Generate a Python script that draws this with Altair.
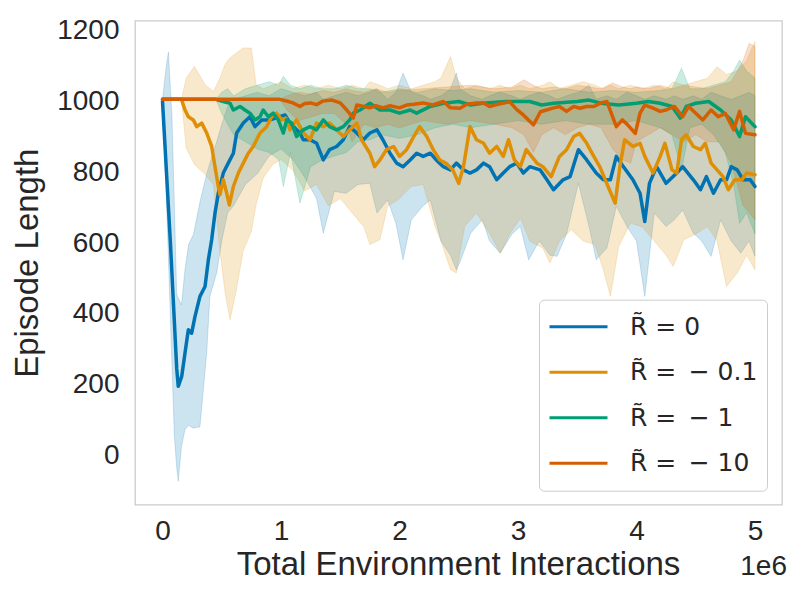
import altair as alt
import pandas as pd

# ---------------- data (x in millions of environment interactions) ----------------
LABELS = ["R\u0303 = 0\u2009", "R\u0303 =\u2002\u2212 0.1\u2009", "R\u0303 =\u2002\u2212 1\u2009", "R\u0303 =\u2002\u2212 10\u2009"]
COLORS = ["#0173b2", "#de8f05", "#029e73", "#d55e00"]

# R = 0 (mean)
R0_X = [0, 0.066, 0.12, 0.133, 0.162, 0.19, 0.218, 0.246, 0.274, 0.316, 0.359, 0.387, 0.415, 0.443, 0.471,
        0.513, 0.555, 0.598, 0.626, 0.682, 0.738, 0.781, 0.837, 0.907, 0.99, 1.034, 1.076, 1.132, 1.16, 1.188,
        1.245, 1.301, 1.357, 1.41, 1.47, 1.526, 1.58, 1.64, 1.695, 1.75, 1.81, 1.86, 1.92, 1.976, 2.03, 2.09,
        2.145, 2.20, 2.26, 2.31, 2.37, 2.43, 2.48, 2.54, 2.595, 2.65, 2.71, 2.76, 2.82, 2.876, 2.93, 2.99,
        3.045, 3.10, 3.186, 3.24, 3.30, 3.38, 3.44, 3.51, 3.58, 3.66, 3.72, 3.78, 3.83, 3.89, 3.97, 4.03, 4.07,
        4.11, 4.17, 4.25, 4.34, 4.39, 4.48, 4.54, 4.59, 4.65, 4.71, 4.76, 4.80, 4.85, 4.90, 4.96, 5.0]
R0_Y = [995, 600, 240, 190, 218, 284, 350, 340, 387, 444, 472, 547, 604, 679, 735, 792, 820, 848, 905, 933,
        951, 923, 942, 942, 951, 956, 933, 914, 905, 886, 886, 876, 829, 858, 867, 886, 923, 905, 886, 905,
        914, 886, 848, 820, 810, 829, 848, 839, 848, 829, 810, 801, 820, 801, 792, 801, 820, 810, 773, 792,
        810, 820, 792, 810, 801, 775, 745, 773, 782, 858, 829, 792, 773, 773, 839, 810, 773, 735, 655, 763,
        810, 763, 792, 810, 773, 745, 782, 735, 773, 773, 810, 801, 773, 773, 754]
# R = -0.1 (mean)
R01_X = [0, 0.16, 0.19, 0.218, 0.26, 0.289, 0.331, 0.373, 0.415, 0.443, 0.471, 0.485, 0.513, 0.542, 0.564,
         0.598, 0.64, 0.682, 0.724, 0.766, 0.823, 0.879, 0.921, 0.964, 1.006, 1.04, 1.076, 1.13, 1.19, 1.245,
         1.30, 1.357, 1.41, 1.47, 1.526, 1.58, 1.64, 1.68, 1.75, 1.79, 1.835, 1.89, 1.95, 2.0, 2.06, 2.12, 2.17,
         2.23, 2.285, 2.34, 2.39, 2.45, 2.50, 2.54, 2.595, 2.65, 2.71, 2.76, 2.82, 2.876, 2.92, 2.97, 3.02,
         3.07, 3.16, 3.21, 3.28, 3.35, 3.41, 3.47, 3.52, 3.58, 3.64, 3.69, 3.76, 3.82, 3.86, 3.90, 3.97, 4.03,
         4.07, 4.14, 4.20, 4.24, 4.30, 4.34, 4.38, 4.42, 4.48, 4.54, 4.58, 4.63, 4.68, 4.73, 4.775, 4.83, 4.89,
         4.93, 5.0]
R01_Y = [1000, 1000, 970, 951, 942, 923, 933, 905, 867, 810, 754, 731, 773, 735, 702, 754, 792, 820, 848, 867,
         905, 923, 951, 961, 942, 947, 914, 942, 905, 886, 933, 923, 933, 914, 895, 914, 933, 886, 848, 810,
         829, 858, 867, 839, 858, 895, 923, 895, 858, 829, 820, 801, 763, 810, 923, 886, 876, 848, 867, 839,
         886, 829, 810, 858, 820, 810, 782, 839, 858, 895, 904, 876, 839, 810, 754, 707, 810, 886, 867, 876,
         839, 792, 839, 876, 801, 792, 886, 900, 867, 858, 876, 820, 801, 782, 745, 773, 773, 792, 787]
# R = -1 (mean)
R1_X = [0, 0.45, 0.513, 0.57, 0.598, 0.654, 0.696, 0.738, 0.781, 0.823, 0.85, 0.893, 0.935, 0.977, 1.02,
        1.048, 1.09, 1.132, 1.188, 1.245, 1.30, 1.357, 1.41, 1.47, 1.526, 1.58, 1.61, 1.667, 1.75, 1.835,
        1.92, 2.0, 2.09, 2.145, 2.26, 2.37, 2.5, 2.6, 2.7, 2.9, 3.1, 3.2, 3.3, 3.5, 3.6, 3.7, 3.85, 4.0, 4.1,
        4.2, 4.3, 4.37, 4.42, 4.5, 4.61, 4.71, 4.80, 4.87, 4.92, 5.0]
R1_Y = [1000, 1000, 994, 989, 970, 980, 970, 961, 942, 951, 970, 951, 961, 942, 905, 942, 933, 895, 914, 923,
        914, 942, 923, 914, 923, 942, 961, 970, 989, 970, 970, 961, 970, 961, 980, 989, 994, 984, 989, 994,
        994, 984, 989, 994, 998, 989, 984, 989, 994, 989, 980, 947, 980, 989, 994, 970, 942, 895, 951, 923]
# R = -10 (mean)
R10_X = [0, 0.99, 1.04, 1.10, 1.16, 1.2, 1.25, 1.3, 1.35, 1.43, 1.5, 1.555, 1.61, 1.64, 1.70, 1.75, 1.80,
         1.86, 1.92, 2.0, 2.06, 2.12, 2.2, 2.28, 2.37, 2.43, 2.51, 2.57, 2.65, 2.71, 2.76, 2.83, 2.93, 2.99,
         3.045, 3.13, 3.19, 3.24, 3.30, 3.35, 3.41, 3.47, 3.52, 3.58, 3.64, 3.70, 3.75, 3.83, 3.88, 3.92, 3.99,
         4.03, 4.07, 4.14, 4.20, 4.25, 4.32, 4.39, 4.44, 4.50, 4.56, 4.63, 4.69, 4.75, 4.82, 4.87, 4.92, 5.0]
R10_Y = [1000, 1000, 996, 990, 980, 988, 990, 985, 995, 998, 990, 970, 947, 984, 980, 976, 982, 976, 982, 976,
         984, 986, 990, 984, 994, 976, 975, 986, 990, 990, 980, 986, 993, 971, 956, 928, 965, 970, 976, 980,
         966, 980, 975, 980, 980, 990, 994, 923, 942, 930, 904, 961, 984, 975, 966, 970, 980, 951, 980, 961,
         942, 970, 951, 960, 914, 966, 904, 900]

# confidence bands
B0_X = [0, 0.03, 0.05, 0.08, 0.10, 0.12, 0.133, 0.16, 0.19, 0.22, 0.26, 0.316, 0.373, 0.40, 0.457, 0.5, 0.55,
        0.6, 0.7, 0.8, 0.9, 1.0, 1.1, 1.2, 1.3, 1.357, 1.45, 1.55, 1.65, 1.75, 1.81, 1.9, 1.97, 2.03, 2.1, 2.2,
        2.26, 2.35, 2.43, 2.48, 2.51, 2.6, 2.7, 2.76, 2.85, 2.95, 3.02, 3.09, 3.18, 3.27, 3.33, 3.41, 3.51, 3.6,
        3.66, 3.75, 3.83, 3.92, 4.0, 4.07, 4.15, 4.25, 4.32, 4.39, 4.48, 4.55, 4.63, 4.71, 4.80, 4.88, 4.95, 5.0]
B0_LO = [990, 750, 550, 250, 50, -40, -78, 20, 68, 80, 72, 76, 284, 444, 510, 600, 680, 700, 760, 790, 840,
         860, 830, 780, 720, 622, 740, 735, 760, 763, 679, 716, 650, 547, 660, 700, 716, 600, 560, 519, 540,
         622, 660, 600, 566, 620, 641, 547, 600, 560, 557, 620, 763, 641, 547, 580, 698, 641, 600, 444, 679,
         641, 660, 688, 622, 600, 557, 660, 600, 566, 600, 557]
B0_HI = [1000, 1090, 1134, 950, 700, 450, 440, 420, 520, 590, 618, 710, 790, 820, 880, 930, 980, 1000, 1010,
         1020, 1010, 1030, 1020, 1010, 1020, 1000, 1010, 1020, 1010, 1020, 1030, 1000, 1020, 1074, 1020, 1010,
         1000, 1010, 1030, 1074, 1030, 1010, 1000, 1010, 1020, 1010, 1000, 1010, 1020, 1010, 1000, 1010, 1020,
         1040, 1000, 1010, 1000, 1020, 1010, 1000, 1010, 1000, 1010, 1000, 1010, 1000, 1020, 1010, 1000, 1010,
         1020, 1010]
B01_X = [0, 0.16, 0.2, 0.27, 0.36, 0.43, 0.485, 0.53, 0.57, 0.62, 0.68, 0.75, 0.79, 0.85, 0.93, 1.0, 1.1, 1.2,
         1.3, 1.4, 1.5, 1.6, 1.7, 1.75, 1.835, 1.9, 2.0, 2.1, 2.2, 2.3, 2.35, 2.43, 2.48, 2.55, 2.65, 2.76,
         2.85, 2.93, 3.02, 3.1, 3.21, 3.27, 3.35, 3.45, 3.55, 3.65, 3.72, 3.78, 3.85, 3.95, 4.05, 4.15, 4.25,
         4.31, 4.4, 4.5, 4.6, 4.68, 4.76, 4.85, 4.93, 5.0]
B01_LO = [1000, 1000, 863, 816, 788, 759, 571, 450, 378, 456, 571, 628, 703, 778, 816, 830, 800, 741, 760, 700,
          720, 680, 640, 590, 604, 698, 720, 754, 760, 641, 600, 520, 510, 641, 679, 622, 566, 620, 665, 600,
          580, 538, 600, 632, 600, 590, 520, 444, 585, 651, 640, 600, 560, 528, 604, 620, 641, 600, 472, 510,
          560, 519]
B01_HI = [1000, 1000, 1060, 1093, 1041, 1022, 1060, 1100, 1117, 1130, 1145, 1145, 1041, 1030, 1040, 1050,
          1030, 1040, 1030, 1040, 1030, 1040, 1030, 1050, 1040, 1030, 1040, 1030, 1040, 1050, 1060, 1121, 1060,
          1030, 1040, 1030, 1040, 1030, 1040, 1030, 1040, 1050, 1030, 1040, 1050, 1040, 1030, 1040, 1030, 1040,
          1030, 1040, 1030, 1050, 1040, 1050, 1060, 1092, 1070, 1080, 1110, 1163]
B1_X = [0, 0.45, 0.5, 0.55, 0.6, 0.7, 0.8, 0.9, 0.98, 1.02, 1.08, 1.16, 1.25, 1.35, 1.45, 1.55, 1.65, 1.75,
        1.85, 2.0, 2.15, 2.3, 2.45, 2.6, 2.8, 3.0, 3.2, 3.4, 3.6, 3.8, 4.0, 4.2, 4.3, 4.38, 4.45, 4.55, 4.65,
        4.75, 4.82, 4.87, 4.93, 5.0]
B1_LO = [1000, 1000, 960, 930, 900, 880, 860, 850, 830, 754, 850, 707, 810, 829, 840, 850, 880, 886, 900, 890,
         900, 920, 930, 920, 930, 940, 930, 940, 930, 930, 940, 920, 900, 800, 920, 930, 900, 850, 760, 650,
         680, 620]
B1_HI = [1000, 1000, 1020, 1030, 1010, 1030, 1040, 1050, 1040, 1065, 1040, 1030, 1040, 1030, 1030, 1040, 1030,
         1030, 1020, 1030, 1020, 1030, 1025, 1030, 1020, 1025, 1020, 1030, 1020, 1025, 1020, 1025, 1030, 1088,
         1030, 1030, 1040, 1050, 1080, 1111, 1080, 1060]
B10_X = [0, 0.99, 1.05, 1.15, 1.25, 1.35, 1.45, 1.55, 1.6, 1.7, 1.8, 1.9, 2.0, 2.2, 2.4, 2.6, 2.8, 2.95, 3.05,
         3.13, 3.2, 3.3, 3.4, 3.5, 3.6, 3.7, 3.8, 3.88, 3.95, 4.0, 4.1, 4.2, 4.3, 4.4, 4.5, 4.6, 4.7, 4.8, 4.85,
         4.9, 4.95, 5.0]
B10_LO = [1000, 1000, 970, 940, 950, 960, 960, 930, 880, 930, 920, 930, 920, 940, 930, 940, 930, 920, 900, 850,
          900, 920, 900, 920, 930, 920, 860, 830, 820, 880, 900, 920, 900, 880, 900, 880, 880, 820, 760, 700,
          680, 660]
B10_HI = [1000, 1000, 1010, 1020, 1015, 1025, 1020, 1030, 1025, 1020, 1030, 1020, 1025, 1030, 1035, 1040, 1030,
          1035, 1055, 1040, 1030, 1035, 1030, 1040, 1035, 1030, 1046, 1035, 1030, 1035, 1030, 1040, 1030, 1040,
          1035, 1030, 1040, 1050, 1080, 1110, 1158, 1150]

X_TICKS = [0, 1, 2, 3, 4, 5]
Y_TICKS = [0, 200, 400, 600, 800, 1000, 1200]

# ---------------- tables ----------------
line_sets = [(R0_X, R0_Y), (R01_X, R01_Y), (R1_X, R1_Y), (R10_X, R10_Y)]
band_sets = [(B0_X, B0_LO, B0_HI), (B01_X, B01_LO, B01_HI), (B1_X, B1_LO, B1_HI), (B10_X, B10_LO, B10_HI)]

line_rows = []
for k, (xs, ys) in enumerate(line_sets):
    for x, y in zip(xs, ys):
        line_rows.append({"x": x, "y": y, "series": LABELS[k], "k": k})
lines_df = pd.DataFrame(line_rows)

band_rows = []
for k, (xs, lo, hi) in enumerate(band_sets):
    for x, a, b in zip(xs, lo, hi):
        band_rows.append({"x": x, "lo": a, "hi": b, "series": LABELS[k], "k": k})
band_df = pd.DataFrame(band_rows)

TXT = "#262626"
FONT = "Liberation Sans"

x_scale = alt.Scale(domain=[-0.232, 5.228], nice=False, zero=False)
y_scale = alt.Scale(domain=[-144, 1222], nice=False, zero=False)

x_axis = alt.Axis(values=X_TICKS, format="d", ticks=False, tickSize=0, domain=False, grid=False,
                  labelFont=FONT, labelFontSize=28, labelColor=TXT, labelBaseline="alphabetic",
                  labelPadding=35, labelOverlap=False, labelFlush=False,
                  title="Total Environment Interactions", titleFont=FONT, titleFontSize=33,
                  titleFontWeight="normal", titleColor=TXT, titleBaseline="alphabetic",
                  titleAlign="center", titleX=323, titleY=70)
y_axis = alt.Axis(values=Y_TICKS, format="d", ticks=False, tickSize=0, domain=False, grid=False,
                  labelFont=FONT, labelFontSize=28, labelColor=TXT, labelPadding=16, labelOffset=2,
                  labelOverlap=False, labelFlush=False,
                  title="Episode Length", titleFont=FONT, titleFontSize=33, titleFontWeight="normal",
                  titleColor=TXT, titleBaseline="alphabetic", titleAlign="center", titleAngle=270,
                  titleX=-98, titleY=242)

bands = alt.Chart(band_df).mark_area(fillOpacity=0.2, strokeOpacity=0.18, strokeWidth=1).encode(
    x=alt.X("x:Q", scale=x_scale, axis=x_axis),
    y=alt.Y("lo:Q", scale=y_scale, axis=y_axis, stack=None),
    y2="hi:Q",
    fill=alt.Fill("series:N", scale=alt.Scale(domain=LABELS, range=COLORS), legend=None),
    stroke=alt.Stroke("series:N", scale=alt.Scale(domain=LABELS, range=COLORS), legend=None),
    detail="k:N",
)

legend = alt.Legend(orient="none", legendX=404, legendY=279, title=None,
                    symbolType="stroke", symbolSize=3364, symbolStrokeWidth=3, clipHeight=36,
                    rowPadding=9.5, padding=9, labelOffset=21,
                    labelFont="DejaVu Sans", labelFontSize=25, labelColor=TXT, labelLimit=400,
                    fillColor="white", strokeColor="#cccccc", cornerRadius=5)

lines = alt.Chart(lines_df).mark_line(strokeWidth=3.5, strokeJoin="round", strokeCap="round").encode(
    x=alt.X("x:Q", scale=x_scale, axis=x_axis),
    y=alt.Y("y:Q", scale=y_scale, axis=y_axis),
    color=alt.Color("series:N", scale=alt.Scale(domain=LABELS, range=COLORS), legend=legend),
)

offset_text = alt.Chart(pd.DataFrame({"t": ["1e6"]})).mark_text(
    align="right", baseline="alphabetic", font=FONT, fontSize=28, color=TXT
).encode(text="t:N", x=alt.value(652), y=alt.value(554))

chart = alt.layer(bands, lines, offset_text).resolve_scale(
    color="independent", fill="independent", stroke="independent"
).properties(
    width=647, height=484,
    padding={"left": 127, "top": 12.7, "right": 10, "bottom": 87},
    autosize=alt.AutoSizeParams(type="none"),
    background="white",
).configure_view(stroke="#cccccc", strokeWidth=1.3)

chart.save("out.html", embed_options={"renderer": "svg", "actions": False})
